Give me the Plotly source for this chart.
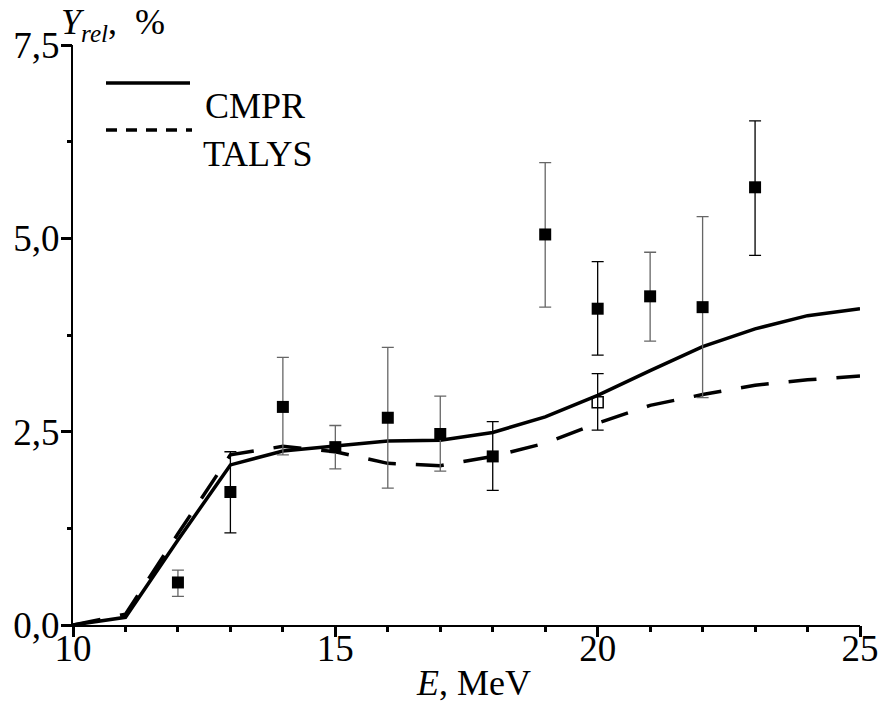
import plotly.graph_objects as go

# ---------------- data ----------------
E_curve = [10, 11, 12, 13, 14, 15, 16, 17, 18, 19, 20, 21, 22, 23, 24, 25]
cmpr = [0.0, 0.10, 1.10, 2.07, 2.25, 2.32, 2.38, 2.39, 2.49, 2.69, 2.97, 3.29, 3.60, 3.83, 4.00, 4.09]
talys = [0.0, 0.14, 1.18, 2.20, 2.31, 2.24, 2.09, 2.06, 2.18, 2.35, 2.61, 2.84, 2.98, 3.10, 3.17, 3.22]

E_exp = [12, 13, 14, 15, 16, 17, 18, 19, 20, 21, 22, 23]
Y_exp = [0.55, 1.72, 2.82, 2.30, 2.68, 2.47, 2.18, 5.05, 4.09, 4.25, 4.11, 5.66]
err_plus = [0.16, 0.52, 0.64, 0.28, 0.91, 0.49, 0.45, 0.93, 0.61, 0.57, 1.17, 0.86]
err_minus = [0.18, 0.53, 0.62, 0.28, 0.91, 0.48, 0.44, 0.94, 0.60, 0.58, 1.17, 0.88]

E_open = [20]
Y_open = [2.88]
open_plus = [0.37]
open_minus = [0.36]

series_names = ["CMPR", "TALYS"]
x_range = [10, 25]
y_range = [0, 7.5]

# ---------------- styling ----------------
FONT = "Liberation Serif"
dark_err = [False, True, False, False, False, False, True, False, True, False, False, True]

fig = go.Figure()

fig.add_trace(go.Scatter(x=E_curve, y=cmpr, mode="lines", name=series_names[0],
                         line=dict(color="black", width=3.5), showlegend=False))
fig.add_trace(go.Scatter(x=E_curve, y=talys, mode="lines", name=series_names[1],
                         line=dict(color="black", width=3.5, dash="28px,20px"), showlegend=False))

for dark in (False, True):
    idx = [i for i, d in enumerate(dark_err) if d == dark]
    fig.add_trace(go.Scatter(
        x=[E_exp[i] for i in idx], y=[Y_exp[i] for i in idx], mode="markers",
        marker=dict(symbol="square", size=12, color="black"),
        error_y=dict(type="data", symmetric=False,
                     array=[err_plus[i] for i in idx],
                     arrayminus=[err_minus[i] for i in idx],
                     color="black" if dark else "#666666", thickness=1.3, width=6),
        showlegend=False))

fig.add_trace(go.Scatter(
    x=E_open, y=Y_open, mode="markers",
    marker=dict(symbol="square-open", size=11, color="black", line=dict(width=1.5)),
    error_y=dict(type="data", symmetric=False, array=open_plus, arrayminus=open_minus,
                 color="black", thickness=1.3, width=6),
    showlegend=False))

# empty helper traces so the minor-tick overlay axes are drawn
fig.add_trace(go.Scatter(x=[], y=[], xaxis="x", yaxis="y2", showlegend=False, hoverinfo="skip"))
fig.add_trace(go.Scatter(x=[], y=[], xaxis="x3", yaxis="y", showlegend=False, hoverinfo="skip"))

# ---------------- legend (drawn manually) ----------------
def px_x(p):
    return (p - 73) / 787.0

def px_y(p):
    return (625 - p) / 580.0

fig.add_shape(type="line", xref="paper", yref="paper",
              x0=px_x(106), x1=px_x(190), y0=px_y(83), y1=px_y(83),
              line=dict(color="black", width=3.5))
fig.add_shape(type="line", xref="paper", yref="paper",
              x0=px_x(106), x1=px_x(192), y0=px_y(130), y1=px_y(130),
              line=dict(color="black", width=3.5, dash="11px,9px"))
fig.add_annotation(xref="paper", yref="paper", x=px_x(203), y=px_y(106),
                   xanchor="left", yanchor="middle", showarrow=False,
                   text=series_names[0], font=dict(family=FONT, size=36, color="black"))
fig.add_annotation(xref="paper", yref="paper", x=px_x(201), y=px_y(154),
                   xanchor="left", yanchor="middle", showarrow=False,
                   text=series_names[1], font=dict(family=FONT, size=36, color="black"))

# axis titles
fig.add_annotation(xref="paper", yref="paper", x=px_x(59), y=px_y(25),
                   xanchor="left", yanchor="middle", showarrow=False,
                   text="<i>Y</i><sub><i>rel</i></sub>,&nbsp; %",
                   font=dict(family=FONT, size=36, color="black"))
fig.add_annotation(xref="paper", yref="paper", x=px_x(474), y=px_y(683),
                   xanchor="center", yanchor="middle", showarrow=False,
                   text="<i>E</i>, MeV",
                   font=dict(family=FONT, size=36, color="black"))

axis_common = dict(showgrid=False, zeroline=False, automargin=False)

fig.update_layout(
    width=886, height=704,
    margin=dict(l=73, r=26, t=45, b=79),
    paper_bgcolor="white", plot_bgcolor="white",
    font=dict(family=FONT, size=36, color="black"),
    separators=", ",
    showlegend=False,
    xaxis=dict(range=x_range, tick0=10, dtick=5,
               ticks="outside", ticklen=10, tickwidth=3, tickcolor="black",
               ticklabelstandoff=-20,
               showline=True, linecolor="black", linewidth=2,
               tickfont=dict(family=FONT, size=37, color="black"), **axis_common),
    # minor x tick marks
    xaxis3=dict(range=x_range, tick0=10, dtick=1, overlaying="x", anchor="y", side="bottom",
                ticks="outside", ticklen=6, tickwidth=3, tickcolor="black",
                showticklabels=False, showline=False, **axis_common),
    yaxis=dict(range=y_range, tick0=0, dtick=2.5, tickformat=".1f",
               ticks="outside", ticklen=10, tickwidth=3, tickcolor="black",
               ticklabelstandoff=-6,
               showline=True, linecolor="black", linewidth=2,
               tickfont=dict(family=FONT, size=37, color="black"), **axis_common),
    # minor y tick marks
    yaxis2=dict(range=y_range, tick0=0, dtick=1.25, overlaying="y", anchor="x", side="left",
                ticks="outside", ticklen=5, tickwidth=3, tickcolor="black",
                showticklabels=False, showline=False, **axis_common),
)

fig.write_html("out.html")
